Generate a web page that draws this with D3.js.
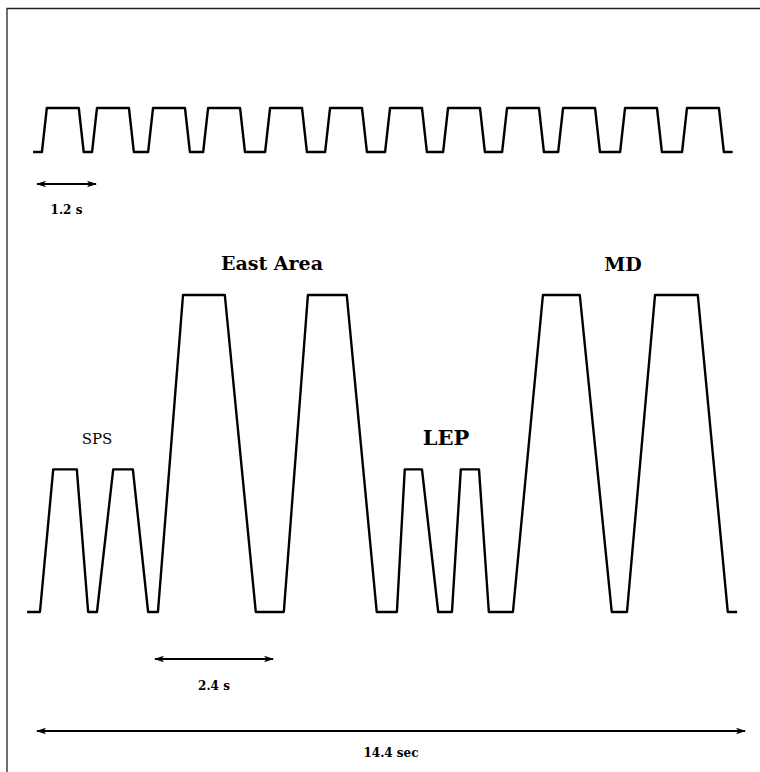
<!DOCTYPE html>
<html>
<head>
<meta charset="utf-8">
<script src="https://cdn.jsdelivr.net/npm/d3@7"></script>
<style>
  body { margin: 0; background: #fff; }
  svg { display: block; }
</style>
</head>
<body>
<svg id="chart" width="760" height="772"></svg>
<script>
// Basic period trace: start of each pulse's rising edge (s)
const basicRiseTimes = [0.10, 1.12, 2.26, 3.38, 4.64, 5.86, 7.08, 8.26, 9.46, 10.60, 11.86, 13.12];
const basicRamp = 0.10;
const basicFlat = 0.65;
const basicStart = -0.08;
const basicEnd = 14.15;

// Supercycle trace: breakpoints (s) and level as a fraction of the highest flat top
const superTimes  = [-0.20, 0.06, 0.33, 0.81, 1.04, 1.22, 1.55, 1.95, 2.26, 2.46,
                     2.97, 3.82, 4.45, 5.02, 5.51, 6.30, 6.91, 7.32,
                     7.48, 7.83, 8.16, 8.44, 8.62, 8.99, 9.19, 9.68,
                     10.29, 11.04, 11.69, 12.00, 12.57, 13.44, 14.05, 14.24];
const superLevels = [0, 0, 0.45, 0.45, 0, 0, 0.45, 0.45, 0, 0,
                     1, 1, 0, 0, 1, 1, 0, 0,
                     0.45, 0.45, 0, 0, 0.45, 0.45, 0, 0,
                     1, 1, 0, 0, 1, 1, 0, 0];

// Cycle names and the time each name is centred on
const cycleNames = ["SPS", "East Area", "LEP", "MD"];
const cycleLabelTimes = [1.22, 4.78, 8.32, 11.92];
const cycleLabelLevels = [0.45, 1, 0.45, 1];

// Time spans marked with double-headed arrows
const spanLabels = ["1.2 s", "2.4 s", "14.4 sec"];
const spanStarts = [0, 2.4, 0];
const spanEnds   = [1.2, 4.8, 14.4];

const svg = d3.select("#chart");

const x = d3.scaleLinear().domain([0, 14.4]).range([37, 745]);
const yBasic = d3.scaleLinear().domain([0, 1]).range([152, 108]);
const ySuper = d3.scaleLinear().domain([0, 1]).range([612, 295]);

// frame
svg.append("path")
  .attr("d", "M7,772 V8.5 H760")
  .attr("fill", "none")
  .attr("stroke", "#222")
  .attr("stroke-width", 1.3);

// arrowheads
const defs = svg.append("defs");
["start", "end"].forEach(k => {
  defs.append("marker")
    .attr("id", "head-" + k)
    .attr("viewBox", "0 0 10 8")
    .attr("refX", k === "end" ? 9 : 1)
    .attr("refY", 4)
    .attr("markerWidth", 10)
    .attr("markerHeight", 8)
    .attr("markerUnits", "userSpaceOnUse")
    .attr("orient", "auto")
    .append("path")
    .attr("d", k === "end" ? "M0,0.8 L10,4 L0,7.2 L2.5,4 Z" : "M10,0.8 L0,4 L10,7.2 L7.5,4 Z")
    .attr("fill", "#000");
});

// basic period trace
const basicPts = [[basicStart, 0]];
basicRiseTimes.forEach(t => {
  basicPts.push([t, 0], [t + basicRamp, 1], [t + basicRamp + basicFlat, 1], [t + 2 * basicRamp + basicFlat, 0]);
});
basicPts.push([basicEnd, 0]);

const lineBasic = d3.line().x(d => x(d[0])).y(d => yBasic(d[1]));
svg.append("path")
  .attr("d", lineBasic(basicPts))
  .attr("fill", "none")
  .attr("stroke", "#000")
  .attr("stroke-width", 2.4)
  .attr("stroke-linejoin", "round");

// supercycle trace
const lineSuper = d3.line().x(d => x(d[0])).y(d => ySuper(d[1]));
svg.append("path")
  .attr("d", lineSuper(superTimes.map((t, i) => [t, superLevels[i]])))
  .attr("fill", "none")
  .attr("stroke", "#000")
  .attr("stroke-width", 2.4)
  .attr("stroke-linejoin", "round");

// cycle names
const nameFont = [
  { size: 15, weight: "normal", dy: -25 },
  { size: 19, weight: "bold", dy: -25 },
  { size: 21, weight: "bold", dy: -24 },
  { size: 19, weight: "bold", dy: -24 }
];
svg.selectAll("text.cycle")
  .data(cycleNames)
  .join("text")
  .attr("class", "cycle")
  .attr("x", (d, i) => x(cycleLabelTimes[i]))
  .attr("y", (d, i) => ySuper(cycleLabelLevels[i]) + nameFont[i].dy)
  .attr("text-anchor", "middle")
  .attr("font-family", "'DejaVu Serif', serif")
  .attr("font-size", (d, i) => nameFont[i].size)
  .attr("font-weight", (d, i) => nameFont[i].weight)
  .attr("fill", "#000")
  .text(d => d);

// span arrows and their labels
const spanY = [184, 659, 731];
const spanTextY = [214, 690, 757];
spanLabels.forEach((lab, i) => {
  svg.append("line")
    .attr("x1", x(spanStarts[i]))
    .attr("x2", x(spanEnds[i]))
    .attr("y1", spanY[i])
    .attr("y2", spanY[i])
    .attr("stroke", "#000")
    .attr("stroke-width", 2)
    .attr("marker-start", "url(#head-start)")
    .attr("marker-end", "url(#head-end)");
  svg.append("text")
    .attr("x", (x(spanStarts[i]) + x(spanEnds[i])) / 2)
    .attr("y", spanTextY[i])
    .attr("text-anchor", "middle")
    .attr("font-family", "'DejaVu Serif', serif")
    .attr("font-size", 12)
    .attr("font-weight", "bold")
    .attr("fill", "#000")
    .text(lab);
});
</script>
</body>
</html>
